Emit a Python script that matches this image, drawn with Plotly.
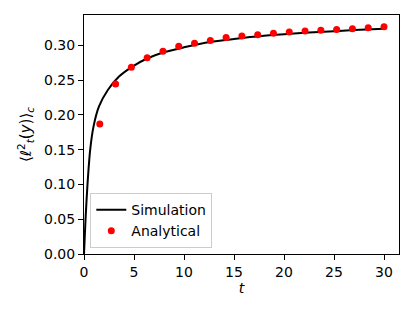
import plotly.graph_objects as go

# Simulation curve
sim_t = [0, 0.15, 0.35, 0.62, 0.95, 1.5, 2.4, 3.5, 4.8, 6.3, 8.0, 10.0, 12.6, 15.0, 18.0, 21.0, 24.0, 27.0, 30.0]
sim_v = [0.0, 0.049, 0.100, 0.150, 0.183, 0.212, 0.236, 0.255, 0.269, 0.281, 0.290, 0.297, 0.3047, 0.309, 0.3135, 0.3168, 0.3195, 0.3218, 0.3238]

# Analytical points
ana_t = [1.579, 3.158, 4.737, 6.316, 7.895, 9.474, 11.053, 12.632, 14.211, 15.789,
         17.368, 18.947, 20.526, 22.105, 23.684, 25.263, 26.842, 28.421, 30.0]
ana_v = [0.1869, 0.2444, 0.2683, 0.2822, 0.2913, 0.2985, 0.3028, 0.3068, 0.3110, 0.3134,
         0.3152, 0.3172, 0.3191, 0.3205, 0.3215, 0.3226, 0.3236, 0.3250, 0.3265]

x_ticks = [0, 5, 10, 15, 20, 25, 30]
y_ticks = [0.0, 0.05, 0.10, 0.15, 0.20, 0.25, 0.30]

fig = go.Figure()
fig.add_trace(go.Scatter(x=sim_t, y=sim_v, mode="lines", name="Simulation",
                         line=dict(color="black", width=2, shape="spline", smoothing=0.8)))
fig.add_trace(go.Scatter(x=ana_t, y=ana_v, mode="markers", name="Analytical",
                         marker=dict(color="red", size=7)))

axis_common = dict(showline=True, linecolor="black", linewidth=1, mirror=True,
                   ticks="outside", ticklen=5, tickwidth=1, tickcolor="black",
                   showgrid=False, zeroline=False, automargin=False,
                   tickfont=dict(family="DejaVu Sans", size=14, color="black"))

fig.update_layout(
    width=415, height=312,
    margin=dict(l=84, r=16, t=15, b=58),
    paper_bgcolor="white", plot_bgcolor="white",
    font=dict(family="DejaVu Sans", size=14, color="black"),
    xaxis=dict(range=[0, 31.5], tickvals=x_ticks,
               title=dict(text="<i>t</i>", standoff=2, font=dict(size=14)), **axis_common),
    yaxis=dict(range=[0, 0.3435], tickvals=y_ticks, tickformat=".2f",
               title=dict(text="⟨<i>ℓ</i><sup>2</sup><sub><i>t</i></sub>(<i>y</i>)⟩<sub><i>c</i></sub>",
                          standoff=8, font=dict(size=15)), **axis_common),
    legend=dict(x=0.02, y=0.025, xanchor="left", yanchor="bottom",
                bordercolor="#cccccc", borderwidth=1, bgcolor="rgba(255,255,255,0.8)",
                font=dict(size=14), tracegroupgap=0, itemwidth=30),
    showlegend=True,
)

fig.write_html("out.html", config={"displayModeBar": False},
               post_script="document.body.style.margin='0px';document.body.style.overflow='hidden';")
